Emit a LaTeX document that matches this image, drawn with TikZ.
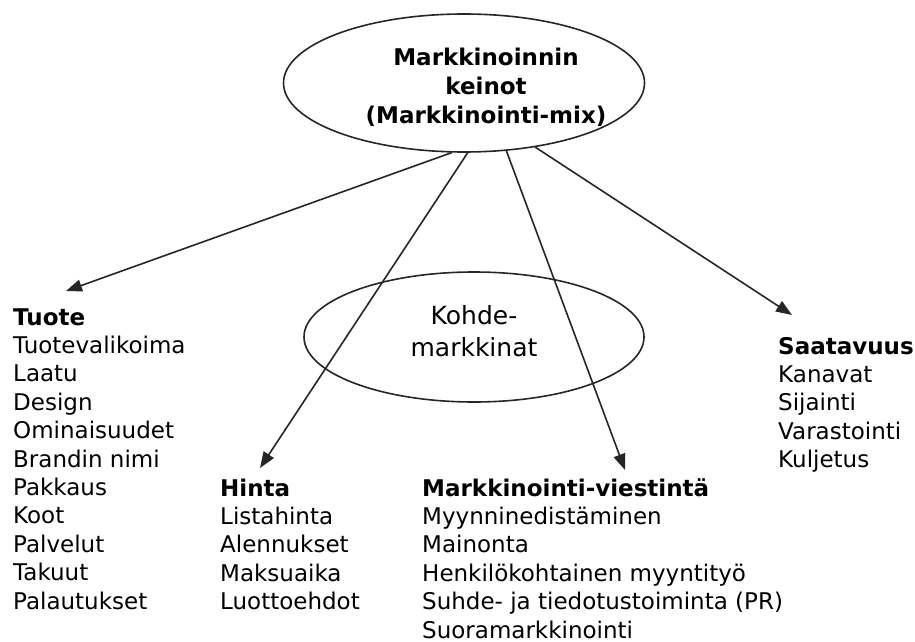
\documentclass[tikz,border=0pt]{standalone}
\usepackage{fontspec}
\setmainfont{DejaVu Sans}
\usetikzlibrary{shapes.geometric,arrows.meta}
\tikzset{
  oval/.style={draw=black!85, line width=1.6pt, ellipse, inner sep=0pt},
  arr/.style={draw=black!85, line width=1.6pt, -{Triangle[length=16pt,width=12pt]}},
  col/.style={anchor=base west, align=left, inner sep=0pt, font=\fontsize{23}{28.4}\selectfont},
}
\begin{document}
\begin{tikzpicture}[x=1pt,y=-1pt]
\useasboundingbox (0,0) rectangle (915,642);
% ellipses
\node[oval, minimum width=361pt, minimum height=138pt] (mix) at (464,83) {};
\node[align=center, inner sep=0pt, font=\fontsize{23}{29}\selectfont\bfseries] (mixtext) at (486,87)
  {Markkinoinnin\\keinot\\(Markkinointi-mix)};
\node[oval, minimum width=340pt, minimum height=130pt] (kohde) at (474,337) {};
\node[align=center, inner sep=0pt, font=\fontsize{25}{32}\selectfont] (kohdetext) at (474,331)
  {Kohde-\\markkinat};
% arrow targets
\coordinate (tTuote) at (66,291);
\coordinate (tHinta) at (260,468);
\coordinate (tViest) at (625,470);
\coordinate (tSaat) at (792,315);
\draw[arr] (mix.260) -- (tTuote);
\draw[arr] (mix.273) -- (tHinta);
\draw[arr] (mix.302) -- (tViest);
\draw[arr] (mix.318) -- (tSaat);
% columns (anchored at the baseline of the last line)
\node[col] (tuote) at (13,609) {\textbf{Tuote}\\Tuotevalikoima\\Laatu\\Design\\Ominaisuudet\\Brandin nimi\\Pakkaus\\Koot\\Palvelut\\Takuut\\Palautukset};
\node[col] (hinta) at (220,609.6) {\textbf{Hinta}\\Listahinta\\Alennukset\\Maksuaika\\Luottoehdot};
\node[col] (viest) at (422,638) {\textbf{Markkinointi-viestintä}\\Myynninedistäminen\\Mainonta\\Henkilökohtainen myyntityö\\Suhde- ja tiedotustoiminta (PR)\\Suoramarkkinointi};
\node[col] (saat) at (778,467.6) {\textbf{Saatavuus}\\Kanavat\\Sijainti\\Varastointi\\Kuljetus};
\end{tikzpicture}
\end{document}
